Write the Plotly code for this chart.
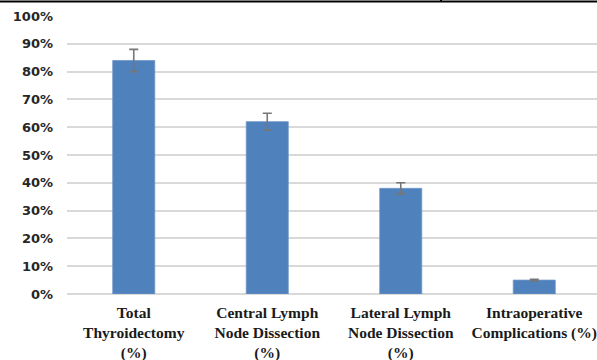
import plotly.graph_objects as go

categories = ["Total<br>Thyroidectomy<br>(%)",
              "Central Lymph<br>Node Dissection<br>(%)",
              "Lateral Lymph<br>Node Dissection<br>(%)",
              "Intraoperative<br>Complications (%)"]
values = [84, 62, 38, 5]
errors = [4, 3, 2, 0.3]
y_ticks = [0, 10, 20, 30, 40, 50, 60, 70, 80, 90, 100]
y_tick_labels = [f"{v}%" for v in y_ticks]

fig = go.Figure()
fig.add_trace(go.Bar(
    x=list(range(len(categories))),
    y=values,
    marker=dict(color="#4f81bd", line=dict(color="#6f97c8", width=0.8)),
    width=0.315,
    error_y=dict(type="data", array=errors, visible=True,
                 color="#767676", thickness=1.6, width=4.5),
))

fig.update_layout(
    width=597, height=360,
    margin=dict(l=67, r=0, t=16, b=66, autoexpand=False),
    paper_bgcolor="white", plot_bgcolor="white",
    showlegend=False,
    xaxis=dict(
        range=[-0.5, 3.47],
        tickmode="array",
        tickvals=list(range(len(categories))),
        ticktext=categories,
        tickfont=dict(family="Liberation Serif", size=15.5, color="#1a1a1a", weight="bold"),
        showgrid=False, showline=False, zeroline=False,
        ticks="", ticklabelstandoff=7, automargin=False,
        ticklabeloverflow="allow",
    ),
    yaxis=dict(
        range=[0, 100],
        tickmode="array",
        tickvals=y_ticks,
        ticktext=y_tick_labels,
        tickfont=dict(family="DejaVu Sans", size=13, color="#262626", weight="bold"),
        showgrid=True, gridcolor="#d9d9d9", gridwidth=1.5,
        zeroline=True, zerolinecolor="#d9d9d9", zerolinewidth=1.5,
        showline=False, ticks="", ticklabelstandoff=13, automargin=False,
    ),
    shapes=[
        dict(type="line", xref="paper", yref="paper", ysizemode="pixel", yanchor=1,
             x0=-0.2, x1=1.0, y0=14.5, y1=14.5, line=dict(color="black", width=2)),
        dict(type="line", xref="paper", yref="paper", ysizemode="pixel", yanchor=1,
             x0=(441-67)/530, x1=(441-67)/530, y0=14.5, y1=17,
             line=dict(color="black", width=2)),
    ],
)

fig.write_html("out.html", config={"displayModeBar": False},
               post_script="document.body.style.margin='0';document.body.style.overflow='hidden';")
